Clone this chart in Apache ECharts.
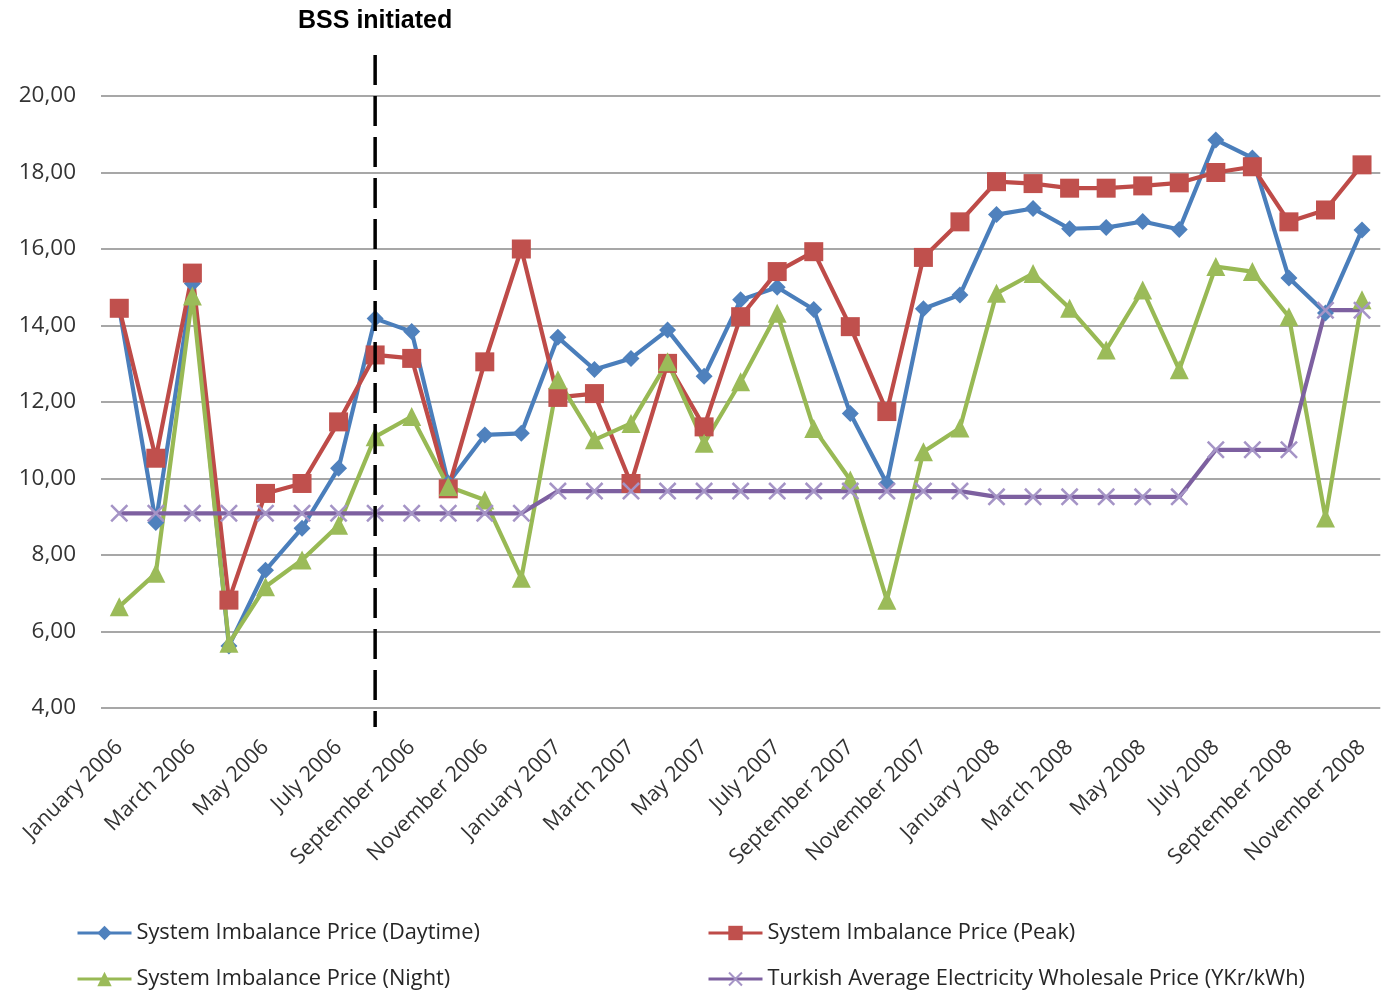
<!DOCTYPE html>
<html>
<head>
<meta charset="utf-8">
<script src="https://cdn.jsdelivr.net/npm/echarts@6/dist/echarts.min.js"></script>
<style>
  html, body { margin: 0; padding: 0; background: #ffffff; }
  #chart { width: 1381px; height: 994px; }
</style>
</head>
<body>
<div id="chart"></div>
<script>
// Monthly categories, January 2006 – November 2008
const months = [
  'January 2006', 'February 2006', 'March 2006', 'April 2006', 'May 2006', 'June 2006',
  'July 2006', 'August 2006', 'September 2006', 'October 2006', 'November 2006', 'December 2006',
  'January 2007', 'February 2007', 'March 2007', 'April 2007', 'May 2007', 'June 2007',
  'July 2007', 'August 2007', 'September 2007', 'October 2007', 'November 2007', 'December 2007',
  'January 2008', 'February 2008', 'March 2008', 'April 2008', 'May 2008', 'June 2008',
  'July 2008', 'August 2008', 'September 2008', 'October 2008', 'November 2008'
];

// System imbalance prices and wholesale price (YKr/kWh)
const daytimePrice = [
  14.45, 8.85, 15.10, 5.62, 7.60, 8.70, 10.27, 14.18, 13.84, 9.88, 11.14, 11.18,
  13.69, 12.85, 13.14, 13.88, 12.67, 14.67, 15.00, 14.42, 11.70, 9.87, 14.44, 14.80,
  16.90, 17.06, 16.53, 16.56, 16.72, 16.51, 18.85, 18.38, 15.24, 14.33, 16.50
];
const peakPrice = [
  14.45, 10.53, 15.37, 6.82, 9.61, 9.87, 11.48, 13.23, 13.14, 9.73, 13.05, 16.00,
  12.12, 12.22, 9.87, 13.01, 11.35, 14.23, 15.41, 15.93, 13.97, 11.75, 15.78, 16.71,
  17.76, 17.71, 17.59, 17.59, 17.65, 17.73, 18.00, 18.15, 16.71, 17.02, 18.20
];
const nightPrice = [
  6.65, 7.52, 14.77, 5.69, 7.17, 7.87, 8.78, 11.09, 11.62, 9.79, 9.44, 7.39,
  12.58, 11.01, 11.44, 13.05, 10.92, 12.53, 14.32, 11.31, 9.96, 6.82, 10.70, 11.32,
  14.84, 15.36, 14.45, 13.36, 14.93, 12.84, 15.54, 15.41, 14.23, 8.97, 14.67
];
const wholesalePrice = [
  9.09, 9.09, 9.09, 9.09, 9.09, 9.09, 9.09, 9.09, 9.09, 9.09, 9.09, 9.09,
  9.67, 9.67, 9.67, 9.67, 9.67, 9.67, 9.67, 9.67, 9.67, 9.67, 9.67, 9.67,
  9.52, 9.52, 9.52, 9.52, 9.52, 9.52, 10.75, 10.75, 10.75, 14.40, 14.40
];

const seriesNames = [
  'System Imbalance Price (Daytime)',
  'System Imbalance Price (Peak)',
  'System Imbalance Price (Night)',
  'Turkish Average Electricity Wholesale Price (YKr/kWh)'
];

// Month the balancing and settlement system started
const bssMonth = 'August 2006';
const bssLabel = 'BSS initiated';

const yTicks = { min: 4, max: 20, step: 2 };

const crossSymbol = 'path://M1,0 L5,4 L9,0 L10,1 L6,5 L10,9 L9,10 L5,6 L1,10 L0,9 L4,5 L0,1 Z';

const chart = echarts.init(document.getElementById('chart'), null, { renderer: 'canvas' });

function lineSeries(name, data, color, symbol, size, markerColor) {
  return {
    name: name,
    type: 'line',
    data: data,
    symbol: symbol,
    symbolSize: size,
    showSymbol: true,
    lineStyle: { color: color, width: 4.2 },
    itemStyle: { color: markerColor || color, borderWidth: 0 },
    emphasis: { disabled: true },
    animation: false
  };
}

const legendBase = {
  itemWidth: 54,
  itemHeight: 18,
  itemGap: 0,
  padding: 0,
  selectedMode: false,
  lineStyle: { width: 3 },
  textStyle: { fontFamily: 'Open Sans', fontSize: 21.8, color: '#262626' }
};

chart.setOption({
  backgroundColor: '#ffffff',
  animation: false,
  grid: { left: 101, right: 0.7, top: 96, bottom: 286, containLabel: false },
  legend: [
    Object.assign({ data: [seriesNames[0]], left: 76, top: 922 }, legendBase),
    Object.assign({ data: [seriesNames[1]], left: 707, top: 922 }, legendBase),
    Object.assign({ data: [seriesNames[2]], left: 76, top: 968 }, legendBase),
    Object.assign({ data: [seriesNames[3]], left: 707, top: 968 }, legendBase)
  ],
  xAxis: {
    type: 'category',
    data: months,
    boundaryGap: true,
    axisLine: { show: false },
    axisTick: { show: false },
    axisLabel: {
      interval: 1,
      rotate: 45,
      margin: 36,
      fontFamily: 'Open Sans',
      fontSize: 21.5,
      color: '#333333'
    },
    splitLine: { show: false }
  },
  yAxis: {
    type: 'value',
    min: yTicks.min,
    max: yTicks.max,
    interval: yTicks.step,
    axisLine: { show: false },
    axisTick: { show: false },
    axisLabel: {
      margin: 25,
      fontFamily: 'Open Sans',
      fontSize: 22.5,
      color: '#333333',
      formatter: v => v.toFixed(2).replace('.', ',')
    },
    splitLine: { lineStyle: { color: '#8a8a8a', width: 1.5 } }
  },
  series: [
    lineSeries(seriesNames[0], daytimePrice, '#4A7EBB', 'diamond', 17, '#4F81BD'),
    lineSeries(seriesNames[1], peakPrice, '#BE4B48', 'rect', 19, '#C0504D'),
    lineSeries(seriesNames[2], nightPrice, '#98B954', 'triangle', 19, '#9BBB59'),
    lineSeries(seriesNames[3], wholesalePrice, '#7D60A0', crossSymbol, 18, '#A594C6')
  ]
});

// Dashed marker for the start of the balancing system, with its caption
const bx = chart.convertToPixel({ xAxisIndex: 0 }, bssMonth);
const yTop = chart.convertToPixel({ yAxisIndex: 0 }, 21.07);
const yBottom = chart.convertToPixel({ yAxisIndex: 0 }, 3.5);

chart.setOption({
  graphic: [
    {
      type: 'line',
      z: 100,
      shape: { x1: bx, y1: yTop, x2: bx, y2: yBottom },
      style: { stroke: '#000000', lineWidth: 3.5, lineDash: [30, 11] }
    },
    {
      type: 'text',
      z: 100,
      x: bx,
      y: 21,
      style: {
        text: bssLabel,
        fill: '#000000',
        font: 'bold 25px "Liberation Sans", Arial, sans-serif',
        align: 'center',
        verticalAlign: 'middle'
      }
    }
  ]
});
</script>
</body>
</html>
